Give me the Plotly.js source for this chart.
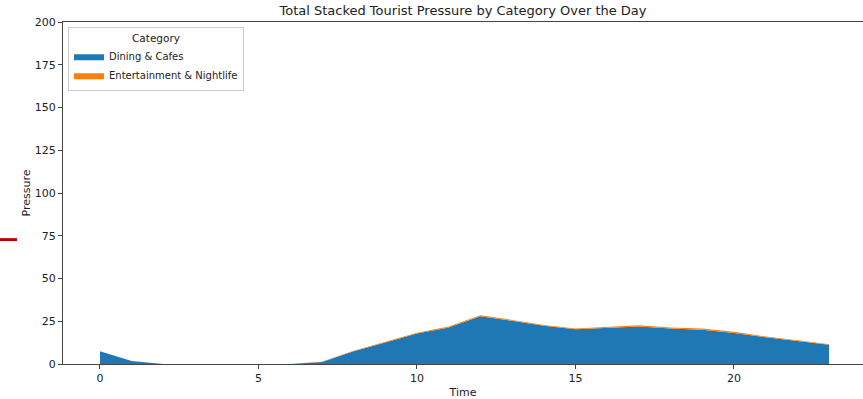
<!DOCTYPE html>
<html>
<head>
<meta charset="utf-8">
<script src="https://cdn.plot.ly/plotly-3.0.1.min.js"></script>
<style>html,body{margin:0;padding:0;background:#fff;overflow:hidden}</style>
</head>
<body>
<div id="chart" style="width:863px;height:399px"></div>
<script>
const hours = [0,1,2,3,4,5,6,7,8,9,10,11,12,13,14,15,16,17,18,19,20,21,22,23];
const diningCafes = [7.5,1.8,0,0,0,0,0,1.2,7.4,12.6,17.8,21.4,27.9,25.3,22.4,20.3,21.3,22.0,20.7,20.1,18.2,15.6,13.5,11.3];
const entertainmentNightlife = [0,0,0,0,0,0,0,0.1,0.3,0.4,0.5,0.5,0.6,0.5,0.4,0.4,0.5,0.7,0.6,0.6,0.6,0.5,0.4,0.3];
const seriesNames = ["Dining & Cafes", "Entertainment & Nightlife"];
const yTicks = [0,25,50,75,100,125,150,175,200];
const xTicks = [0,5,10,15,20];

const font = {family: "DejaVu Sans, sans-serif", size: 11, color: "#222"};

const traces = [
  {x: hours, y: diningCafes, name: seriesNames[0], type: "scatter", mode: "lines",
   stackgroup: "one", line: {width: 0, color: "#1f77b4"}, fillcolor: "#1f77b4"},
  {x: hours, y: entertainmentNightlife, name: seriesNames[1], type: "scatter", mode: "lines",
   stackgroup: "one", line: {width: 0, color: "#ff7f0e"}, fillcolor: "#ff7f0e"}
];

const layout = {
  width: 863, height: 399,
  margin: {l: 63, r: 0, t: 22, b: 35},
  paper_bgcolor: "#fff", plot_bgcolor: "#fff",
  font: font,
  showlegend: true,
  title: {text: "Total Stacked Tourist Pressure by Category Over the Day",
          font: {family: "DejaVu Sans, sans-serif", size: 13, color: "#222"},
          x: 0.5, xanchor: "center", xref: "paper", y: 0.975, yanchor: "middle"},
  xaxis: {range: [-1.167, 24.07], tickvals: xTicks, ticks: "outside", ticklen: 4,
          tickcolor: "#444", showgrid: false, zeroline: false, showline: true,
          linecolor: "#444", linewidth: 1, mirror: true,
          title: {text: "Time", font: {size: 11, color: "#222"}, standoff: 7}},
  yaxis: {range: [0, 200], tickvals: yTicks, ticks: "outside", ticklen: 4,
          tickcolor: "#444", showgrid: false, zeroline: false, showline: true,
          linecolor: "#444", linewidth: 1,
          title: {text: "Pressure", font: {size: 11, color: "#222"}, standoff: 1}},
  legend: {x: 0.00625, y: 0.985, xanchor: "left", yanchor: "top",
           bgcolor: "rgba(255,255,255,0.9)", bordercolor: "#ccc", borderwidth: 1,
           font: {size: 10, color: "#222"}, tracegroupgap: 0, traceorder: "normal",
           itemwidth: 30,
           title: {text: "Category", side: "top center", font: {size: 10.5, color: "#222"}}},
  shapes: [{type: "rect", xref: "paper", yref: "paper",
            x0: -0.07875, x1: -0.0575, y0: 0.3596, y1: 0.368,
            fillcolor: "#c00000", line: {width: 0}}]
};

Plotly.newPlot("chart", traces, layout, {displayModeBar: false, staticPlot: true});
</script>
</body>
</html>
